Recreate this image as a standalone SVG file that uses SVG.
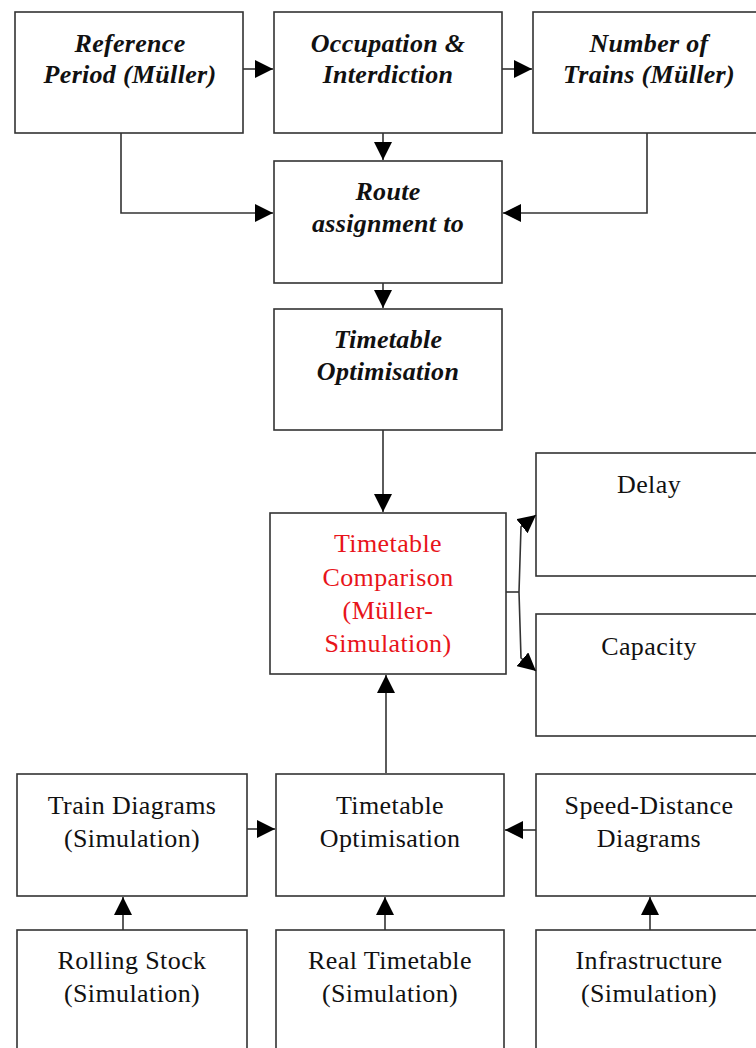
<svg xmlns="http://www.w3.org/2000/svg" width="756" height="1048" viewBox="0 0 756 1048">
<style>
.box{fill:#fff;stroke:#333;stroke-width:1.6}
.t{font-family:"Liberation Serif","DejaVu Serif",serif;font-size:26px;fill:#111;text-anchor:middle;letter-spacing:0.4px}
.i{font-style:italic;font-weight:bold;letter-spacing:0.3px}
.red{fill:#e8141a}
.c{fill:none;stroke:#333;stroke-width:1.6}
</style>
<defs>
<marker id="a" viewBox="0 0 18 18" refX="18" refY="9" markerWidth="18" markerHeight="18" markerUnits="userSpaceOnUse" orient="auto">
<path d="M0,0 L18,9 L0,18 Z" fill="#000"/>
</marker>
</defs>
<rect width="756" height="1048" fill="#fff"/>
<g id="n-ref"><rect class="box" x="15" y="12" width="228" height="121"/>
<text class="t i" x="130" y="52">Reference</text><text class="t i" x="130" y="83">Period (Müller)</text></g>
<g id="n-occ"><rect class="box" x="274" y="12" width="228" height="121"/>
<text class="t i" x="388" y="52">Occupation &amp;</text><text class="t i" x="388" y="83">Interdiction</text></g>
<g id="n-num"><rect class="box" x="533" y="12" width="240" height="121"/>
<text class="t i" x="649" y="52">Number of</text><text class="t i" x="649" y="83">Trains (Müller)</text></g>
<g id="n-route"><rect class="box" x="274" y="161" width="228" height="122"/>
<text class="t i" x="388" y="200">Route</text><text class="t i" x="388" y="232">assignment to</text></g>
<g id="n-opt1"><rect class="box" x="274" y="309" width="228" height="121"/>
<text class="t i" x="388" y="348">Timetable</text><text class="t i" x="388" y="380">Optimisation</text></g>
<g id="n-cmp"><rect class="box" x="270" y="513" width="236" height="161"/>
<text class="t red" x="388" y="552">Timetable</text><text class="t red" x="388" y="586">Comparison</text><text class="t red" x="388" y="619">(Müller-</text><text class="t red" x="388" y="652">Simulation)</text></g>
<g id="n-delay"><rect class="box" x="536" y="453" width="240" height="123"/>
<text class="t" x="649" y="493">Delay</text></g>
<g id="n-cap"><rect class="box" x="536" y="614" width="240" height="122"/>
<text class="t" x="649" y="655">Capacity</text></g>
<g id="n-train"><rect class="box" x="17" y="774" width="230" height="122"/>
<text class="t" x="132" y="814">Train Diagrams</text><text class="t" x="132" y="847">(Simulation)</text></g>
<g id="n-opt2"><rect class="box" x="276" y="774" width="228" height="122"/>
<text class="t" x="390" y="814">Timetable</text><text class="t" x="390" y="847">Optimisation</text></g>
<g id="n-speed"><rect class="box" x="536" y="774" width="240" height="122"/>
<text class="t" x="649" y="814">Speed-Distance</text><text class="t" x="649" y="847">Diagrams</text></g>
<g id="n-roll"><rect class="box" x="17" y="930" width="230" height="140"/>
<text class="t" x="132" y="969">Rolling Stock</text><text class="t" x="132" y="1002">(Simulation)</text></g>
<g id="n-real"><rect class="box" x="276" y="930" width="228" height="140"/>
<text class="t" x="390" y="969">Real Timetable</text><text class="t" x="390" y="1002">(Simulation)</text></g>
<g id="n-infra"><rect class="box" x="536" y="930" width="240" height="140"/>
<text class="t" x="649" y="969">Infrastructure</text><text class="t" x="649" y="1002">(Simulation)</text></g>
<g id="connectors">
<path class="c" d="M243,69 H273" marker-end="url(#a)"/>
<path class="c" d="M502,69 H532" marker-end="url(#a)"/>
<path class="c" d="M383,133 V160" marker-end="url(#a)"/>
<path class="c" d="M121,133 V213 H273" marker-end="url(#a)"/>
<path class="c" d="M647,133 V213 H503" marker-end="url(#a)"/>
<path class="c" d="M383,283 V308" marker-end="url(#a)"/>
<path class="c" d="M383,430 V512" marker-end="url(#a)"/>
<path class="c" d="M506,592 H519"/>
<path class="c" d="M519,592 L521,527 L536,515" marker-end="url(#a)"/>
<path class="c" d="M519,592 L521,658 L536,671" marker-end="url(#a)"/>
<path class="c" d="M386,773 V675" marker-end="url(#a)"/>
<path class="c" d="M247,829 H275" marker-end="url(#a)"/>
<path class="c" d="M536,830 H505" marker-end="url(#a)"/>
<path class="c" d="M123,930 V897" marker-end="url(#a)"/>
<path class="c" d="M385,930 V897" marker-end="url(#a)"/>
<path class="c" d="M650,930 V897" marker-end="url(#a)"/>
</g>
</svg>
